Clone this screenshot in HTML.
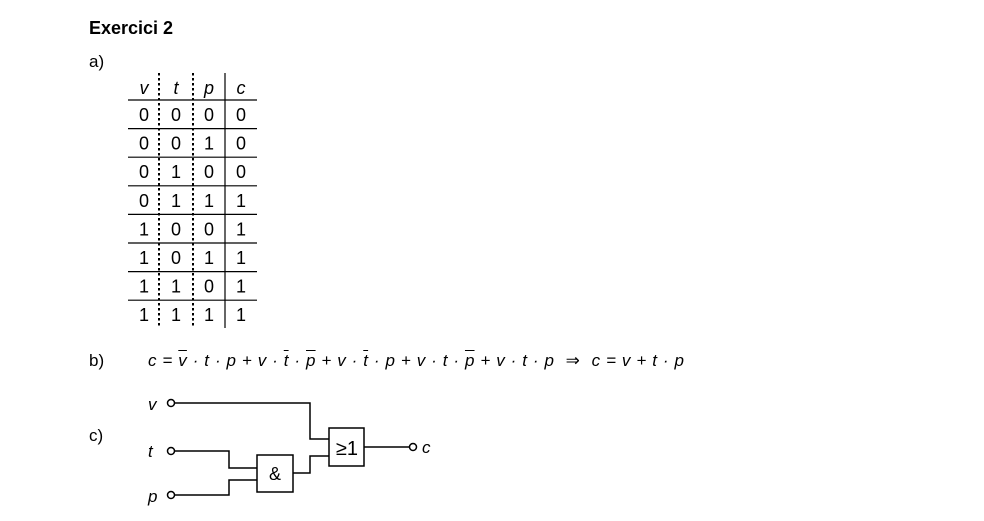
<!DOCTYPE html>
<html><head><meta charset="utf-8"><style>
body{margin:0;background:#fff;width:984px;height:521px;overflow:hidden;font-family:"Liberation Sans",Arial,sans-serif;}
.abs{position:absolute;white-space:nowrap;color:#000}
.ov{text-decoration:overline}
</style></head><body>
<div class="abs" style="left:89px;top:18px;font-size:18px;font-weight:bold">Exercici 2</div>
<div class="abs" style="left:89px;top:52px;font-size:17px">a)</div>
<div class="abs" style="left:89px;top:351px;font-size:17px">b)</div>
<div class="abs" style="left:89px;top:426px;font-size:17px">c)</div>
<div class="abs" style="left:148px;top:351px;font-size:17px;font-style:italic;word-spacing:1px;letter-spacing:0.1px">c = <span class="ov">v</span> · t · p + v · <span class="ov">t</span> · <span class="ov">p</span> + v · <span class="ov">t</span> · p + v · t · <span class="ov">p</span> + v · t · p &nbsp;<span style="font-style:normal">⇒</span>&nbsp; c = v + t · p</div>
<svg width="984" height="521" style="position:absolute;left:0;top:0">
<g id="table" font-size="18" text-anchor="middle" fill="#000"></g>
<g stroke="#000" stroke-width="1.5" fill="none">
<polyline points="175,403 310,403 310,439 329,439"/>
<polyline points="175,451 229,451 229,468 257,468"/>
<polyline points="175,495 229,495 229,480 257,480"/>
<polyline points="293,473 310,473 310,456 329,456"/>
<line x1="364" y1="447" x2="409" y2="447"/>
<rect x="257" y="455" width="36" height="37"/>
<rect x="329" y="428" width="35" height="38"/>
<circle cx="171" cy="403" r="3.5"/>
<circle cx="171" cy="451" r="3.5"/>
<circle cx="171" cy="495" r="3.5"/>
<circle cx="413" cy="447" r="3.5"/>
</g>
<g font-size="17" fill="#000">
<text x="148" y="410" font-style="italic">v</text>
<text x="148" y="457" font-style="italic">t</text>
<text x="148" y="502" font-style="italic">p</text>
<text x="422" y="453" font-style="italic">c</text>
<text x="275" y="480" text-anchor="middle" font-size="18">&amp;</text>
<text x="347" y="455" text-anchor="middle" font-size="20">≥1</text>
</g>
</svg>
<script>
const headers=['v','t','p','c'];
const rows=[[0,0,0,0],[0,0,1,0],[0,1,0,0],[0,1,1,1],[1,0,0,1],[1,0,1,1],[1,1,0,1],[1,1,1,1]];
const g=document.getElementById('table');
const NS='http://www.w3.org/2000/svg';
const cx=[144,176,209,241], top0=100, rh=28.6;
function mk(t,a){const e=document.createElementNS(NS,t);for(const k in a)e.setAttribute(k,a[k]);g.appendChild(e);return e;}
headers.forEach((h,i)=>{const e=mk('text',{x:cx[i],y:94,'font-style':'italic'});e.textContent=h;

});
rows.forEach((r,j)=>{const l=mk('line',{x1:128,x2:257,y1:top0+j*rh,y2:top0+j*rh,stroke:'#000','stroke-width':1.2});


r.forEach((v,i)=>{const e=mk('text',{x:cx[i],y:top0+j*rh+21});e.textContent=v;

});});
[[159,1],[193,1],[225,0]].forEach(([x,d])=>{const a={x1:x,x2:x,y1:73,y2:328,stroke:'#000','stroke-width':d?2:1.2};if(d)a['stroke-dasharray']='2.5,2.5';const l=mk('line',a);

});
</script>
</body></html>
